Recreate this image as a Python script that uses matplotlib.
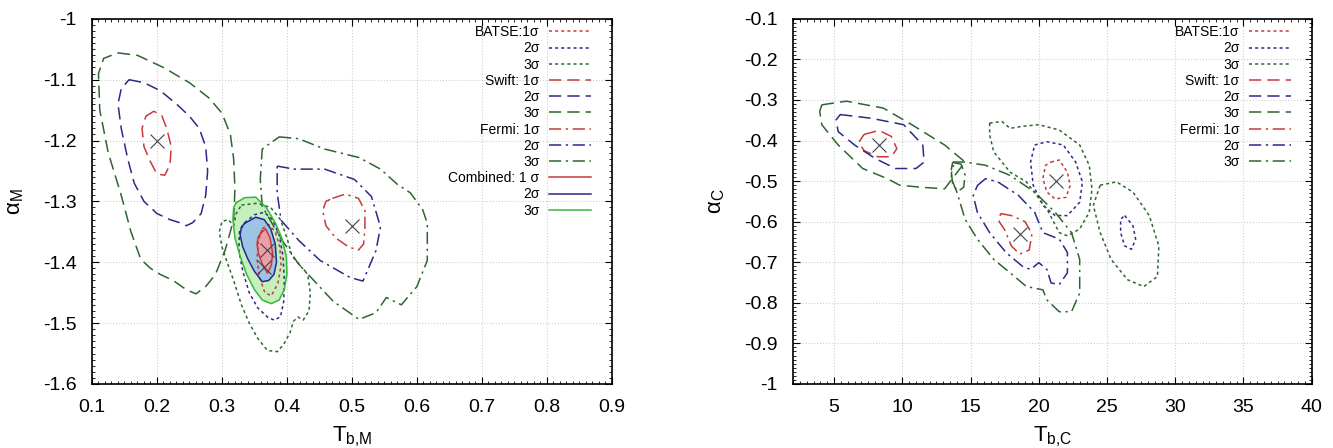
import matplotlib
matplotlib.use("Agg")
import matplotlib.pyplot as plt
from matplotlib.ticker import MultipleLocator

plt.rcParams['font.family'] = ['Liberation Sans', 'DejaVu Sans']
plt.rcParams['mathtext.fontset'] = 'custom'
plt.rcParams['mathtext.rm'] = 'Liberation Sans'
plt.rcParams['mathtext.it'] = 'Liberation Sans:italic'

# ---- left panel: T_b,M vs alpha_M (contour vertices)
batse_m1_x = [0.362, 0.372, 0.382, 0.389, 0.391, 0.386, 0.376, 0.366, 0.358, 0.354, 0.356]
batse_m1_y = [-1.345, -1.338, -1.35, -1.375, -1.405, -1.435, -1.455, -1.45, -1.425, -1.395, -1.365]
batse_m2_x = [0.335, 0.35, 0.365, 0.378, 0.388, 0.394, 0.396, 0.395, 0.39, 0.38, 0.37, 0.355, 0.342, 0.332, 0.326, 0.327]
batse_m2_y = [-1.335, -1.322, -1.318, -1.33, -1.355, -1.39, -1.43, -1.465, -1.49, -1.495, -1.49, -1.475, -1.45, -1.415, -1.38, -1.35]
batse_m3_x = [0.33, 0.355, 0.375, 0.39, 0.4, 0.408, 0.42, 0.432, 0.436, 0.434, 0.425, 0.417, 0.41, 0.405, 0.395,
              0.385, 0.37, 0.355, 0.342, 0.33, 0.318, 0.308, 0.3, 0.296, 0.3, 0.31, 0.318, 0.322]
batse_m3_y = [-1.306, -1.303, -1.31, -1.33, -1.36, -1.39, -1.405, -1.42, -1.45, -1.48, -1.495, -1.49, -1.497, -1.515, -1.535,
              -1.547, -1.545, -1.525, -1.5, -1.47, -1.43, -1.4, -1.375, -1.35, -1.333, -1.33, -1.34, -1.32]

swift_m1_x = [0.183, 0.195, 0.207, 0.215, 0.222, 0.22, 0.212, 0.2, 0.19, 0.18, 0.177]
swift_m1_y = [-1.16, -1.152, -1.158, -1.18, -1.21, -1.24, -1.257, -1.255, -1.235, -1.21, -1.18]
swift_m2_x = [0.157, 0.18, 0.205, 0.23, 0.25, 0.265, 0.275, 0.278, 0.275, 0.268, 0.255, 0.245, 0.235, 0.22, 0.2,
              0.18, 0.165, 0.155, 0.145, 0.14, 0.145]
swift_m2_y = [-1.10, -1.105, -1.118, -1.14, -1.16, -1.18, -1.21, -1.25, -1.29, -1.32, -1.335, -1.34, -1.335, -1.33, -1.32,
              -1.3, -1.27, -1.23, -1.18, -1.14, -1.115]
swift_m3_x = [0.14, 0.17, 0.21, 0.25, 0.28, 0.3, 0.313, 0.318, 0.32, 0.318, 0.305, 0.29, 0.275, 0.26, 0.245, 0.225,
              0.205, 0.19, 0.175, 0.16, 0.145, 0.125, 0.112, 0.11, 0.118]
swift_m3_y = [-1.056, -1.06, -1.08, -1.105, -1.13, -1.155, -1.19, -1.23, -1.28, -1.33, -1.38, -1.42, -1.44, -1.452, -1.445, -1.43,
              -1.42, -1.41, -1.395, -1.35, -1.29, -1.22, -1.15, -1.09, -1.065]

fermi_m1_x = [0.47, 0.49, 0.51, 0.52, 0.52, 0.518, 0.51, 0.495, 0.475, 0.46, 0.455, 0.46]
fermi_m1_y = [-1.295, -1.288, -1.295, -1.315, -1.345, -1.37, -1.38, -1.375, -1.36, -1.34, -1.315, -1.3]
fermi_m2_x = [0.385, 0.411, 0.458, 0.504, 0.53, 0.544, 0.537, 0.517, 0.497, 0.451, 0.418, 0.391, 0.385]
fermi_m2_y = [-1.242, -1.247, -1.247, -1.264, -1.292, -1.342, -1.381, -1.431, -1.425, -1.397, -1.364, -1.331, -1.286]
fermi_m3_x = [0.388, 0.418, 0.458, 0.511, 0.544, 0.57, 0.59, 0.609, 0.616, 0.616, 0.6, 0.576, 0.553, 0.537, 0.511,
              0.471, 0.418, 0.39, 0.362, 0.359, 0.362]
fermi_m3_y = [-1.194, -1.197, -1.214, -1.228, -1.247, -1.272, -1.286, -1.314, -1.336, -1.397, -1.44, -1.47, -1.458, -1.483, -1.494,
              -1.464, -1.403, -1.36, -1.308, -1.264, -1.214]

comb_m1_x = [0.36, 0.367, 0.374, 0.378, 0.376, 0.37, 0.363, 0.356, 0.354, 0.356]
comb_m1_y = [-1.352, -1.345, -1.36, -1.385, -1.405, -1.418, -1.405, -1.385, -1.37, -1.358]
comb_m2_x = [0.335, 0.352, 0.365, 0.375, 0.382, 0.384, 0.38, 0.372, 0.362, 0.35, 0.34, 0.332, 0.328, 0.33]
comb_m2_y = [-1.336, -1.326, -1.33, -1.345, -1.37, -1.4, -1.42, -1.43, -1.432, -1.415, -1.395, -1.375, -1.355, -1.342]
comb_m3_x = [0.322, 0.335, 0.352, 0.368, 0.382, 0.392, 0.399, 0.4, 0.396, 0.388, 0.376, 0.362, 0.35, 0.338, 0.328, 0.32, 0.317, 0.318]
comb_m3_y = [-1.302, -1.294, -1.293, -1.31, -1.335, -1.36, -1.39, -1.42, -1.445, -1.462, -1.468, -1.462, -1.445, -1.42, -1.39, -1.36, -1.33, -1.31]

best_m_x = [0.2, 0.5, 0.37, 0.365]
best_m_y = [-1.2, -1.34, -1.38, -1.408]

# ---- right panel: T_b,C vs alpha_C
batse_c1_x = [20.9, 21.5, 22.1, 22.3, 22.0, 21.2, 20.6, 20.3, 20.5]
batse_c1_y = [-0.453, -0.448, -0.478, -0.511, -0.54, -0.544, -0.527, -0.494, -0.461]
batse_c2_x = [19.7, 20.6, 21.8, 22.7, 23.2, 23.0, 22.1, 21.2, 20.3, 19.6, 19.4]
batse_c2_y = [-0.411, -0.403, -0.411, -0.453, -0.502, -0.552, -0.585, -0.585, -0.56, -0.511, -0.453]
batse_c2b_x = [26.3, 26.9, 27.1, 26.8, 26.3, 26.0, 26.0]
batse_c2b_y = [-0.585, -0.61, -0.643, -0.668, -0.66, -0.627, -0.594]
batse_c3_x = [16.4, 17.3, 17.9, 18.8, 20.0, 21.5, 23.0, 23.7, 23.9, 23.7, 23.0, 22.1, 21.5, 20.6, 19.1, 17.9, 16.7, 16.4]
batse_c3_y = [-0.357, -0.353, -0.37, -0.365, -0.361, -0.374, -0.411, -0.461, -0.519, -0.577, -0.618, -0.635, -0.627, -0.569,
              -0.502, -0.478, -0.428, -0.386]
batse_c3b_x = [24.5, 25.7, 26.9, 28.1, 28.8, 28.7, 27.7, 26.5, 25.3, 24.5, 24.0]
batse_c3b_y = [-0.51, -0.502, -0.527, -0.585, -0.66, -0.735, -0.76, -0.743, -0.693, -0.627, -0.56]

swift_c1_x = [7.2, 8.3, 9.2, 9.6, 9.2, 8.2, 7.2, 6.8]
swift_c1_y = [-0.385, -0.375, -0.39, -0.42, -0.44, -0.44, -0.425, -0.405]
swift_c2_x = [5.45, 7.7, 10.1, 11.5, 11.6, 11.0, 9.5, 8.0, 6.5, 5.3, 5.15]
swift_c2_y = [-0.336, -0.345, -0.361, -0.411, -0.453, -0.469, -0.469, -0.444, -0.411, -0.378, -0.349]
swift_c3_x = [4.1, 5.9, 8.6, 10.7, 13.1, 14.6, 13.1, 11.3, 9.8, 8.9, 7.1, 5.3, 4.1, 3.95]
swift_c3_y = [-0.312, -0.303, -0.32, -0.361, -0.411, -0.453, -0.519, -0.515, -0.51, -0.494, -0.469, -0.411, -0.361, -0.328]

fermi_c1_x = [17.2, 18.0, 19.0, 19.5, 19.3, 18.6, 18.0, 17.5, 17.1]
fermi_c1_y = [-0.58, -0.585, -0.6, -0.63, -0.67, -0.68, -0.66, -0.62, -0.6]
fermi_c2_x = [15.5, 16.1, 17.0, 18.5, 19.7, 20.3, 21.5, 22.1, 22.1, 21.5, 20.9, 20.6, 20.0, 19.4, 18.8, 17.6, 16.4, 15.5, 15.2]
fermi_c2_y = [-0.511, -0.494, -0.502, -0.535, -0.577, -0.627, -0.643, -0.676, -0.726, -0.755, -0.751, -0.718, -0.701, -0.718,
              -0.71, -0.676, -0.627, -0.577, -0.536]
fermi_c3_x = [13.7, 14.6, 16.1, 17.9, 19.7, 21.2, 22.4, 23.0, 23.0, 22.4, 21.5, 20.6, 20.3, 19.1, 17.9, 16.7, 15.5, 14.6,
              14.0, 13.6, 13.6]
fermi_c3_y = [-0.453, -0.453, -0.461, -0.486, -0.527, -0.577, -0.627, -0.693, -0.776, -0.822, -0.822, -0.793, -0.768, -0.76,
              -0.726, -0.693, -0.643, -0.594, -0.527, -0.494, -0.469]
fermi_c3b_x = [13.8, 14.3, 14.6, 14.5, 14.1, 13.7, 13.6]
fermi_c3b_y = [-0.455, -0.458, -0.485, -0.515, -0.525, -0.51, -0.48]

best_c_x = [8.3, 21.3, 18.6]
best_c_y = [-0.41, -0.5, -0.63]

red = '#c83a3a'
blue = '#2a2a8a'
green = '#2f662f'
dot = (0, (2, 2))
dash = (0, (8, 4))
dashdot = (0, (8, 3, 1.5, 3))


def closed(xs, ys):
    return list(xs) + [xs[0]], list(ys) + [ys[0]]


def contour(ax, xs, ys, color, ls, lw=1.1):
    cx, cy = closed(xs, ys)
    return ax.plot(cx, cy, color=color, linestyle=ls, lw=lw)[0]


def style(ax):
    ax.grid(True, color='#d0d0d0', linestyle=':', lw=0.8)
    ax.tick_params(which='both', direction='in', top=True, right=True, labelsize=14, pad=11)
    ax.tick_params(which='major', length=5)
    ax.tick_params(which='minor', length=2.5)
    for s in ax.spines.values():
        s.set_linewidth(1.2)


def leg(ax, handles, labels):
    ax.legend(handles, labels, loc='upper right', bbox_to_anchor=(0.965, 0.99), markerfirst=False,
              frameon=False, fontsize=10, handlelength=3.0, labelspacing=0.16,
              borderaxespad=0.0, borderpad=0.2, handletextpad=0.7)


fig = plt.figure(figsize=(13.33, 4.48), dpi=100)
ax1 = fig.add_axes([0.069, 0.143, 0.39, 0.815])
ax2 = fig.add_axes([0.595, 0.143, 0.389, 0.815])

# left
ax1.fill(*closed(comb_m3_x, comb_m3_y), color='#c4f0bc', zorder=1)
ax1.fill(*closed(comb_m2_x, comb_m2_y), color='#9cc4e4', zorder=1)
ax1.fill(*closed(comb_m1_x, comb_m1_y), color='#e8a0a8', zorder=1)

h = []
h.append(contour(ax1, batse_m1_x, batse_m1_y, red, dot))
h.append(contour(ax1, batse_m2_x, batse_m2_y, blue, dot))
h.append(contour(ax1, batse_m3_x, batse_m3_y, green, dot))
h.append(contour(ax1, swift_m1_x, swift_m1_y, red, dash))
h.append(contour(ax1, swift_m2_x, swift_m2_y, blue, dash))
h.append(contour(ax1, swift_m3_x, swift_m3_y, green, dash))
h.append(contour(ax1, fermi_m1_x, fermi_m1_y, red, dashdot))
h.append(contour(ax1, fermi_m2_x, fermi_m2_y, blue, dashdot))
h.append(contour(ax1, fermi_m3_x, fermi_m3_y, green, dashdot))
h.append(contour(ax1, comb_m1_x, comb_m1_y, red, '-'))
h.append(contour(ax1, comb_m2_x, comb_m2_y, blue, '-'))
h.append(contour(ax1, comb_m3_x, comb_m3_y, '#3cb83c', '-'))
ax1.plot(best_m_x, best_m_y, 'x', color='#444444', ms=10, mew=0.8)

labels_m = ['BATSE:1σ', '2σ', '3σ', 'Swift: 1σ', '2σ', '3σ', 'Fermi: 1σ', '2σ', '3σ',
            'Combined: 1 σ', '2σ', '3σ']
leg(ax1, h, labels_m)

ax1.xaxis.set_major_locator(MultipleLocator(0.1))
ax1.xaxis.set_minor_locator(MultipleLocator(0.01))
ax1.yaxis.set_major_locator(MultipleLocator(0.1))
ax1.yaxis.set_minor_locator(MultipleLocator(0.01))
ax1.set_xlim(0.1, 0.9)
ax1.set_ylim(-1.6, -1.0)
ax1.xaxis.set_major_formatter(lambda v, p: '%g' % round(v, 2))
ax1.yaxis.set_major_formatter(lambda v, p: '%g' % round(v, 2))
ax1.set_xlabel('T$_{\\rm b{,}M}$', fontsize=16, labelpad=6)
ax1.set_ylabel('α$_{\\rm M}$', fontsize=16, labelpad=12)
style(ax1)

# right
h2 = []
h2.append(contour(ax2, batse_c1_x, batse_c1_y, red, dot))
h2.append(contour(ax2, batse_c2_x, batse_c2_y, blue, dot))
contour(ax2, batse_c2b_x, batse_c2b_y, blue, dot)
h2.append(contour(ax2, batse_c3_x, batse_c3_y, green, dot))
contour(ax2, batse_c3b_x, batse_c3b_y, green, dot)
h2.append(contour(ax2, swift_c1_x, swift_c1_y, red, dash))
h2.append(contour(ax2, swift_c2_x, swift_c2_y, blue, dash))
h2.append(contour(ax2, swift_c3_x, swift_c3_y, green, dash))
h2.append(contour(ax2, fermi_c1_x, fermi_c1_y, red, dashdot))
h2.append(contour(ax2, fermi_c2_x, fermi_c2_y, blue, dashdot))
h2.append(contour(ax2, fermi_c3_x, fermi_c3_y, green, dashdot))
contour(ax2, fermi_c3b_x, fermi_c3b_y, green, dashdot)
ax2.plot(best_c_x, best_c_y, 'x', color='#444444', ms=10, mew=0.8)

labels_c = ['BATSE:1σ', '2σ', '3σ', 'Swift: 1σ', '2σ', '3σ', 'Fermi: 1σ', '2σ', '3σ']
leg(ax2, h2, labels_c)

ax2.xaxis.set_major_locator(MultipleLocator(5))
ax2.xaxis.set_minor_locator(MultipleLocator(0.5))
ax2.yaxis.set_major_locator(MultipleLocator(0.1))
ax2.yaxis.set_minor_locator(MultipleLocator(0.01))
ax2.set_xlim(2, 40)
ax2.set_ylim(-1.0, -0.1)
ax2.yaxis.set_major_formatter(lambda v, p: '%g' % round(v, 2))
ax2.set_xlabel('T$_{\\rm b{,}C}$', fontsize=16, labelpad=6)
ax2.set_ylabel('α$_{\\rm C}$', fontsize=16, labelpad=12)
style(ax2)

fig.savefig('out.png', dpi=100)
